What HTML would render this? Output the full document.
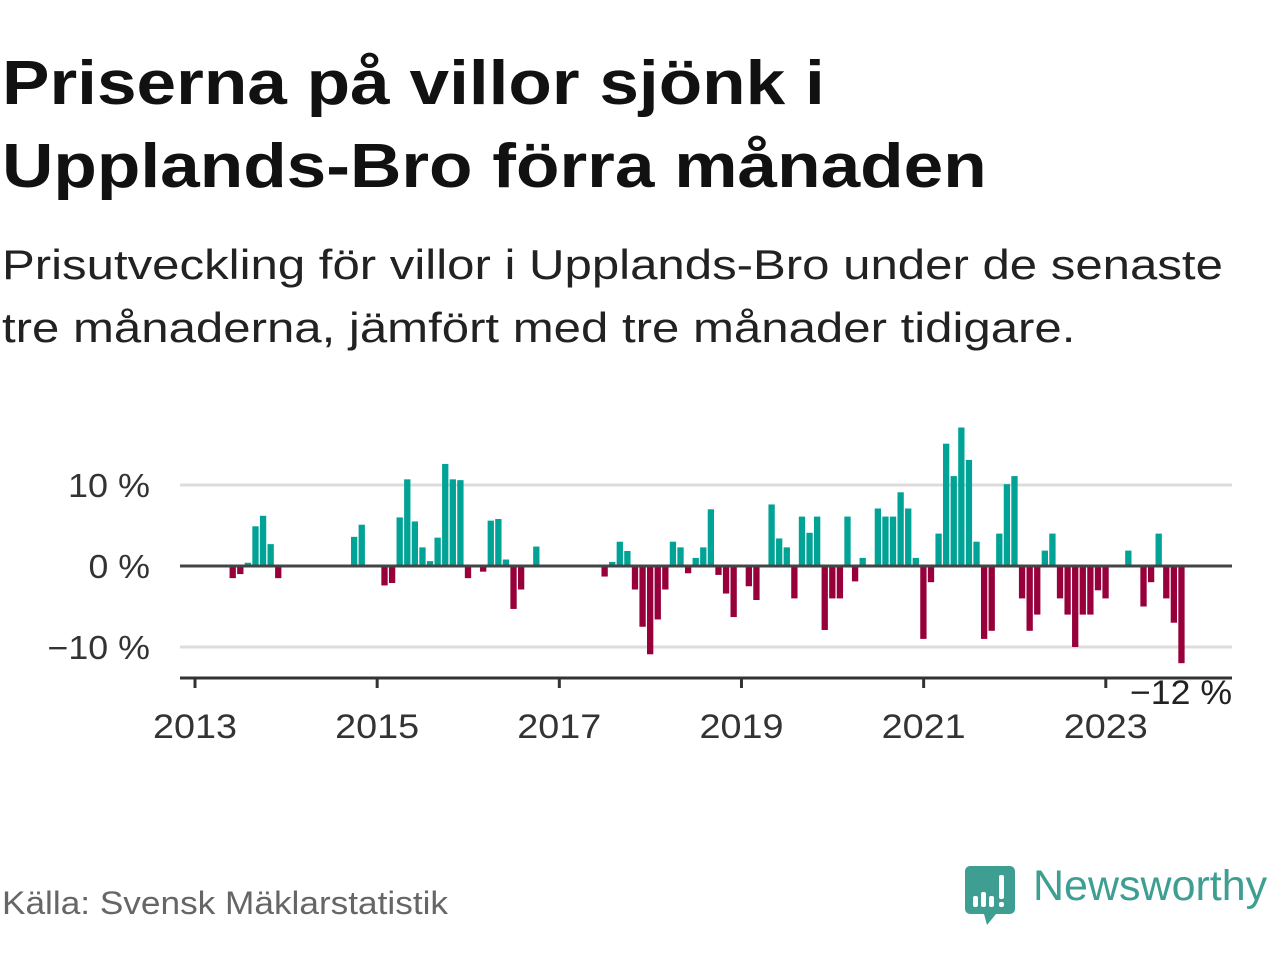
<!DOCTYPE html>
<html><head><meta charset="utf-8">
<style>
body{margin:0;background:#fff;width:1280px;height:960px;overflow:hidden;font-family:"Liberation Sans","DejaVu Sans",sans-serif;position:relative;color:#111}
.t{position:absolute;left:2px;margin:0;white-space:nowrap;transform-origin:0 0}
</style></head><body>
<h1 class="t" style="top:42px;font-size:62px;font-weight:bold;line-height:83px;color:#111;transform:scaleX(1.148)">Priserna på villor sjönk i<br>Upplands-Bro förra månaden</h1>
<div class="t" style="top:233px;font-size:42px;line-height:63px;color:#222;transform:scaleX(1.17)">Prisutveckling för villor i Upplands-Bro under de senaste<br>tre månaderna, jämfört med tre månader tidigare.</div>
<svg id="chart" width="1280" height="800" style="position:absolute;left:0;top:0"></svg>
<div class="t" style="top:885px;font-size:32px;color:#666;transform:scaleX(1.1)">Källa: Svensk Mäklarstatistik</div>
<div style="position:absolute;left:965px;top:865px;width:320px;height:62px">
<svg width="52" height="62" style="position:absolute;left:0;top:0">
<path d="M5 1h40a5 5 0 0 1 5 5v38a5 5 0 0 1-5 5H31l-9 11-3-11H5a5 5 0 0 1-5-5V6a5 5 0 0 1 5-5z" fill="#3e9e92"/>
<rect x="8" y="31" width="5" height="11" rx="2" fill="#fff"/><rect x="16" y="27" width="5" height="15" rx="2" fill="#fff"/><rect x="24" y="31" width="5" height="11" rx="2" fill="#fff"/><rect x="34" y="10" width="5" height="24" rx="2" fill="#fff"/><rect x="34" y="37" width="5" height="5" rx="2" fill="#fff"/>
</svg>
<div style="position:absolute;left:68px;top:-3px;font-size:43px;color:#3e9e92;font-weight:500">Newsworthy</div>
</div>
<script>
const startYear = [2013];
const values = [null,null,null,null,-1.5,-1,0.4,4.9,6.2,2.7,-1.5,null,null,null,null,null,null,null,null,null,
3.6,5.1,null,null,-2.4,-2.1,6.0,10.7,5.5,2.3,0.6,3.5,12.6,10.7,10.6,-1.5,null,-0.7,5.6,5.8,
0.8,-5.3,-2.9,null,2.4,null,null,null,null,null,null,null,null,-1.3,0.5,3.0,1.85,-2.9,-7.5,-10.9,
-6.6,-2.9,3.0,2.3,-0.9,1.0,2.3,7.0,-1.1,-3.4,-6.3,null,-2.5,-4.2,null,7.6,3.4,2.3,-4.0,6.1,
4.1,6.1,-7.9,-4.0,-4.0,6.1,-1.9,1.0,null,7.1,6.1,6.1,9.1,7.1,1.0,-9.0,-2.0,4.0,15.1,11.1,
17.1,13.1,3.0,-9.0,-8.0,4.0,10.1,11.1,-4.0,-8.0,-6.0,1.9,4.0,-4.0,-6.0,-10.0,-6.0,-6.0,-3.0,-4.0,
null,null,1.9,null,-5.0,-2.0,4.0,-4.0,-7.0,-12.0];
const yTicks = [10,0,-10];
const yTickLabels = ["10 %","0 %","−10 %"];
const xTicks = [2013,2015,2017,2019,2021,2023];
const lastLabel = ["−12 %"];

const NS="http://www.w3.org/2000/svg";
const svg=document.getElementById('chart');
const x0=195, step=7.59, barW=6.3, y0=566, pxPer=8.1;
const xMonth=i=>x0+i*step;
const yS=v=>y0-v*pxPer;
function mk(tag,attrs){const e=document.createElementNS(NS,tag);for(const k in attrs)e.setAttribute(k,attrs[k]);svg.appendChild(e);return e;}
yTicks.forEach((t,k)=>{
  if(t!==0){const g=mk('line',{x1:180,x2:1232,y1:yS(t),y2:yS(t),stroke:'#dcdcdc','stroke-width':3});
  
  }
  const lab=yTickLabels[k];
  const l=mk('text',{x:150,y:yS(t)+12,'text-anchor':'end','font-size':33,fill:'#333',textLength:lab.length*20.5,lengthAdjust:'spacingAndGlyphs'});
  l.textContent=lab;
  
  
});
values.forEach((v,i)=>{
  if(v===null)return;
  const x=xMonth(i)+4.2;
  const r=mk('rect',{x:x,width:barW,y:Math.min(yS(v),y0),height:Math.abs(v*pxPer),fill:v>=0?'#00a395':'#97003a'});
  
  
});
const z=mk('line',{x1:180,x2:1232,y1:y0,y2:y0,stroke:'#444','stroke-width':3});


const ax=mk('line',{x1:180,x2:1232,y1:678,y2:678,stroke:'#333','stroke-width':3});


xTicks.forEach(yr=>{
  const x=xMonth((yr-startYear[0])*12);
  const tk=mk('line',{x1:x,x2:x,y1:678,y2:688,stroke:'#333','stroke-width':3});
  
  
  const l=mk('text',{x:x,y:738,'text-anchor':'middle','font-size':34,fill:'#333',textLength:84,lengthAdjust:'spacingAndGlyphs'});
  l.textContent=yr;
  
  
});
const ann=mk('text',{x:1232,y:704,'text-anchor':'end','font-size':34,fill:'#222',textLength:102,lengthAdjust:'spacingAndGlyphs'});
ann.textContent=lastLabel[0];


</script>
</body></html>
